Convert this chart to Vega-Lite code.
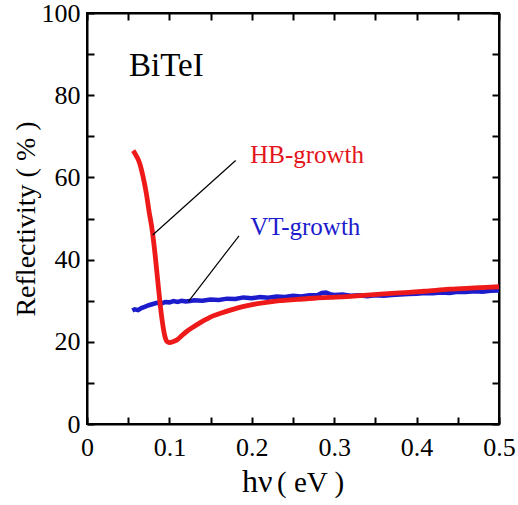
{
  "$schema": "https://vega.github.io/schema/vega-lite/v6.json",
  "width": 412,
  "height": 411,
  "autosize": "none",
  "padding": {"left": 87, "top": 13, "right": 19, "bottom": 81},
  "background": "white",
  "config": {
    "view": {"stroke": "black", "strokeWidth": 2},
    "axis": {"grid": false, "domainColor": "black", "domainWidth": 2, "tickColor": "black", "tickWidth": 2, "labelColor": "black", "titleColor": "black", "titleFontWeight": "normal"}
  },
  "datasets": {
    "hb": [
      {"e": 0.056, "r": 66.5}, {"e": 0.060, "r": 65.2}, {"e": 0.064, "r": 63.4}, {"e": 0.068, "r": 60.2},
      {"e": 0.072, "r": 56.1}, {"e": 0.0755, "r": 51.5}, {"e": 0.0785, "r": 48.0}, {"e": 0.0825, "r": 41.5},
      {"e": 0.0866, "r": 33.4}, {"e": 0.0906, "r": 26.1}, {"e": 0.0947, "r": 21.2}, {"e": 0.0975, "r": 20.0},
      {"e": 0.1007, "r": 19.8}, {"e": 0.104, "r": 20.0}, {"e": 0.1088, "r": 20.4}, {"e": 0.115, "r": 21.5},
      {"e": 0.121, "r": 22.5}, {"e": 0.129, "r": 23.6}, {"e": 0.137, "r": 24.6}, {"e": 0.145, "r": 25.5},
      {"e": 0.153, "r": 26.3}, {"e": 0.163, "r": 27.0}, {"e": 0.174, "r": 27.7}, {"e": 0.188, "r": 28.5},
      {"e": 0.202, "r": 29.1}, {"e": 0.218, "r": 29.6}, {"e": 0.234, "r": 30.0}, {"e": 0.255, "r": 30.3},
      {"e": 0.275, "r": 30.6}, {"e": 0.295, "r": 30.8}, {"e": 0.315, "r": 31.0}, {"e": 0.335, "r": 31.3},
      {"e": 0.356, "r": 31.6}, {"e": 0.38, "r": 31.9}, {"e": 0.41, "r": 32.3}, {"e": 0.44, "r": 32.8},
      {"e": 0.47, "r": 33.1}, {"e": 0.50, "r": 33.4}
    ],
    "vt": [
      {"e": 0.055, "r": 27.6}, {"e": 0.058, "r": 27.9}, {"e": 0.062, "r": 27.7}, {"e": 0.066, "r": 28.2},
      {"e": 0.07, "r": 28.5}, {"e": 0.075, "r": 28.9}, {"e": 0.08, "r": 29.2}, {"e": 0.085, "r": 29.5},
      {"e": 0.09, "r": 29.3}, {"e": 0.095, "r": 29.7}, {"e": 0.10, "r": 29.6}, {"e": 0.105, "r": 29.9},
      {"e": 0.11, "r": 29.7}, {"e": 0.115, "r": 30.0}, {"e": 0.12, "r": 29.8}, {"e": 0.125, "r": 29.9},
      {"e": 0.13, "r": 30.1}, {"e": 0.14, "r": 30.0}, {"e": 0.15, "r": 30.3}, {"e": 0.16, "r": 30.2},
      {"e": 0.17, "r": 30.5}, {"e": 0.18, "r": 30.4}, {"e": 0.19, "r": 30.8}, {"e": 0.2, "r": 30.6},
      {"e": 0.21, "r": 30.9}, {"e": 0.22, "r": 30.7}, {"e": 0.23, "r": 31.0}, {"e": 0.24, "r": 30.9},
      {"e": 0.25, "r": 31.2}, {"e": 0.26, "r": 31.0}, {"e": 0.27, "r": 31.3}, {"e": 0.28, "r": 31.4},
      {"e": 0.285, "r": 31.9}, {"e": 0.29, "r": 32.0}, {"e": 0.295, "r": 31.6}, {"e": 0.30, "r": 31.4},
      {"e": 0.31, "r": 31.5}, {"e": 0.32, "r": 31.2}, {"e": 0.33, "r": 31.3}, {"e": 0.34, "r": 31.1},
      {"e": 0.35, "r": 31.3}, {"e": 0.36, "r": 31.2}, {"e": 0.37, "r": 31.4}, {"e": 0.38, "r": 31.5},
      {"e": 0.39, "r": 31.6}, {"e": 0.40, "r": 31.7}, {"e": 0.41, "r": 31.9}, {"e": 0.42, "r": 31.8},
      {"e": 0.43, "r": 32.0}, {"e": 0.44, "r": 31.9}, {"e": 0.45, "r": 32.2}, {"e": 0.46, "r": 32.1},
      {"e": 0.47, "r": 32.3}, {"e": 0.48, "r": 32.2}, {"e": 0.49, "r": 32.4}, {"e": 0.50, "r": 32.5}
    ],
    "pointers": [
      {"x1": 0.0797, "y1": 46.0, "x2": 0.1804, "y2": 64.1},
      {"x1": 0.123, "y1": 29.8, "x2": 0.1845, "y2": 45.8}
    ],
    "labels": [
      {"x": 0.198, "y": 63.5, "t": "HB-growth", "c": "#e3141b", "s": 25},
      {"x": 0.198, "y": 46.0, "t": "VT-growth", "c": "#1c1ccc", "s": 25},
      {"x": 0.051, "y": 84.7, "t": "BiTeI", "c": "black", "s": 33}
    ],
    "xtitle": [
      {"x": 0.188, "y": -16.5, "t": "hν", "st": "italic", "s": 32},
      {"x": 0.2306, "y": -16.5, "t": "( eV )", "st": "normal", "s": 29}
    ]
  },
  "resolve": {"axis": {"x": "independent", "y": "independent"}},
  "layer": [
    {
      "data": {"name": "vt"},
      "mark": {"type": "line", "color": "#1c1ccc", "strokeWidth": 4.5, "clip": true},
      "encoding": {
        "x": {"field": "e", "type": "quantitative", "scale": {"domain": [0, 0.5], "nice": false},
          "axis": {"orient": "bottom", "title": null, "values": [0, 0.05, 0.1, 0.15, 0.2, 0.25, 0.3, 0.35, 0.4, 0.45, 0.5],
            "labelExpr": "abs(datum.value*10 - round(datum.value*10)) > 0.01 ? '' : (datum.value == 0 ? '0' : format(datum.value, '.1f'))",
            "labelFont": "Liberation Serif", "labelFontSize": 26,
            "tickSize": -7, "labelPadding": 17, "labelFlush": false, "labelOverlap": false}},
        "y": {"field": "r", "type": "quantitative", "scale": {"domain": [0, 100], "nice": false},
          "axis": {"orient": "left", "title": "Reflectivity ( % )", "values": [0, 10, 20, 30, 40, 50, 60, 70, 80, 90, 100],
            "labelExpr": "datum.value % 20 == 0 ? datum.value : ''",
            "labelFont": "Liberation Serif", "titleFont": "Liberation Serif", "labelFontSize": 26, "titleFontSize": 28,
            "tickSize": -7, "labelPadding": 14, "titlePadding": 1, "labelFlush": false, "labelOverlap": false}}
      }
    },
    {
      "data": {"name": "hb"},
      "mark": {"type": "line", "color": "#ee1a1a", "strokeWidth": 4.8, "clip": true, "interpolate": "monotone"},
      "encoding": {
        "x": {"field": "e", "type": "quantitative", "scale": {"domain": [0, 0.5], "nice": false},
          "axis": {"orient": "top", "title": null, "labels": false, "values": [0, 0.05, 0.1, 0.15, 0.2, 0.25, 0.3, 0.35, 0.4, 0.45, 0.5], "tickSize": -7}},
        "y": {"field": "r", "type": "quantitative", "scale": {"domain": [0, 100], "nice": false},
          "axis": {"orient": "right", "title": null, "labels": false, "values": [0, 10, 20, 30, 40, 50, 60, 70, 80, 90, 100], "tickSize": -7}}
      }
    },
    {
      "data": {"name": "pointers"},
      "mark": {"type": "rule", "color": "black", "strokeWidth": 1.2},
      "encoding": {
        "x": {"field": "x1", "type": "quantitative", "axis": null},
        "y": {"field": "y1", "type": "quantitative", "axis": null},
        "x2": {"field": "x2"},
        "y2": {"field": "y2"}
      }
    },
    {
      "data": {"name": "labels"},
      "mark": {"type": "text", "align": "left", "baseline": "alphabetic", "font": "Liberation Serif"},
      "encoding": {
        "x": {"field": "x", "type": "quantitative", "axis": null},
        "y": {"field": "y", "type": "quantitative", "axis": null},
        "text": {"field": "t"},
        "size": {"field": "s", "type": "quantitative", "scale": null},
        "color": {"field": "c", "type": "nominal", "scale": null}
      }
    },
    {
      "data": {"name": "xtitle"},
      "mark": {"type": "text", "align": "left", "baseline": "alphabetic", "font": "Liberation Serif", "clip": false, "color": "black"},
      "encoding": {
        "x": {"field": "x", "type": "quantitative", "axis": null},
        "y": {"field": "y", "type": "quantitative", "axis": null},
        "text": {"field": "t"},
        "size": {"field": "s", "type": "quantitative", "scale": null},
        "fontStyle": {"field": "st", "type": "nominal", "scale": null}
      }
    }
  ]
}
